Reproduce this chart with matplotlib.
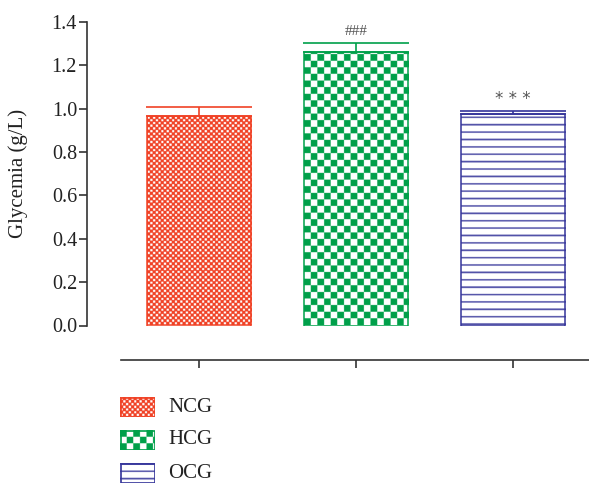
import numpy as np
import matplotlib
matplotlib.use("Agg")
import matplotlib.pyplot as plt
from matplotlib.patches import Rectangle

groups = ["NCG", "HCG", "OCG"]
glycemia = [0.967, 1.263, 0.974]
sem = [0.04, 0.04, 0.015]
marks = ["", "###", "* * *"]

red = "#f04226"
green = "#00a04a"
navy = "#34349a"
navy_light = "#5252a8"

plt.rcParams["font.family"] = ["Liberation Serif", "DejaVu Serif"]


def texture(kind, w_px, h_px, s=4):
    # pattern built in screen pixels, s samples per pixel
    yy, xx = np.mgrid[0:int(h_px * s), 0:int(w_px * s)] / s
    img = np.ones(xx.shape + (3,))
    if kind == "NCG":
        c = 2.7
        fx, fy = (xx / c) % 1, (yy / c) % 1
        white = ((np.floor(xx / c) + np.floor(yy / c)) % 2 == 0) & (fx > 0.2) & (fy > 0.2)
        img[:] = matplotlib.colors.to_rgb(red)
        img[white] = 1.0
    elif kind == "HCG":
        c = 6.6
        on = (np.floor(xx / c) + np.floor(yy / c)) % 2 == 0
        img[on] = matplotlib.colors.to_rgb(green)
    else:
        p = 7.35
        on = (yy % p) < 1.6
        img[on] = matplotlib.colors.to_rgb(navy_light)
    return img


fig = plt.figure(figsize=(5.89, 4.83), dpi=100)
W, H = 589, 483
ax = fig.add_axes([120.5 / W, 1 - 325.5 / H, 471 / W, 303.5 / H])

x = np.arange(len(groups))
edge = [red, green, navy]
bars = ax.bar(x, glycemia, width=0.665, facecolor="none", edgecolor=edge, linewidth=1.1, zorder=3)

px_x = 471 / 3.0
px_y = 303.5 / 1.4
for b, g in zip(bars, groups):
    x0, w, h = b.get_x(), b.get_width(), b.get_height()
    img = texture(g, w * px_x, h * px_y)
    im = ax.imshow(img, extent=(x0, x0 + w, 0, h), origin="lower",
                   interpolation="antialiased", aspect="auto", zorder=2)
    im.set_clip_path(b)

for i in range(len(groups)):
    ax.errorbar(x[i], glycemia[i], yerr=[[0], [sem[i]]], fmt="none", ecolor=edge[i],
                elinewidth=1.2, capsize=38, capthick=1.2, zorder=4)

ax.text(x[1], glycemia[1] + sem[1] + 0.055, marks[1], ha="center", va="center",
        fontsize=11, color="#555555")
ax.text(x[2], glycemia[2] + sem[2] + 0.058, marks[2], ha="center", va="center",
        fontsize=12, color="#555555", fontfamily="DejaVu Sans")

ax.set_xlim(-0.5, 2.5)
ax.set_ylim(0, 1.4)

ax.spines["top"].set_visible(False)
ax.spines["right"].set_visible(False)
ax.spines["left"].set_position(("outward", 23.8))
ax.spines["bottom"].set_position(("outward", 24.5))
for sp in ["left", "bottom"]:
    ax.spines[sp].set_color("#333333")
    ax.spines[sp].set_linewidth(1.2)

ax.set_yticks(np.arange(0, 1.41, 0.2))
ax.set_yticklabels([f"{v:.1f}" for v in np.arange(0, 1.41, 0.2)])
ax.set_xticks(x)
ax.set_xticklabels([])
ax.tick_params(axis="both", direction="out", length=6, width=1.2, color="#333333",
               labelsize=14.5, labelcolor="#222222", pad=1.5)
ax.set_ylabel("Glycemia (g/L)", fontsize=15, color="#222222")
ax.yaxis.set_label_coords(-0.197, 0.5)

# legend
sw_top = [397, 430, 463]
for g, t in zip(groups, sw_top):
    lax = fig.add_axes([120 / W, 1 - (t + 20) / H, 35 / W, 20 / H])
    lax.set_xlim(0, 35)
    lax.set_ylim(0, 20)
    lax.imshow(texture(g, 35, 20), extent=(0, 35, 0, 20), origin="upper",
               interpolation="antialiased", aspect="auto")
    ec = edge[groups.index(g)]
    lax.add_patch(Rectangle((0.5, 0.5), 34, 19, fill=False, edgecolor=ec, linewidth=1.2))
    lax.axis("off")
    fig.text(168 / W, 1 - (t + 10) / H, g, fontsize=15, color="#222222", va="center")

fig.savefig("out.png", dpi=100)
